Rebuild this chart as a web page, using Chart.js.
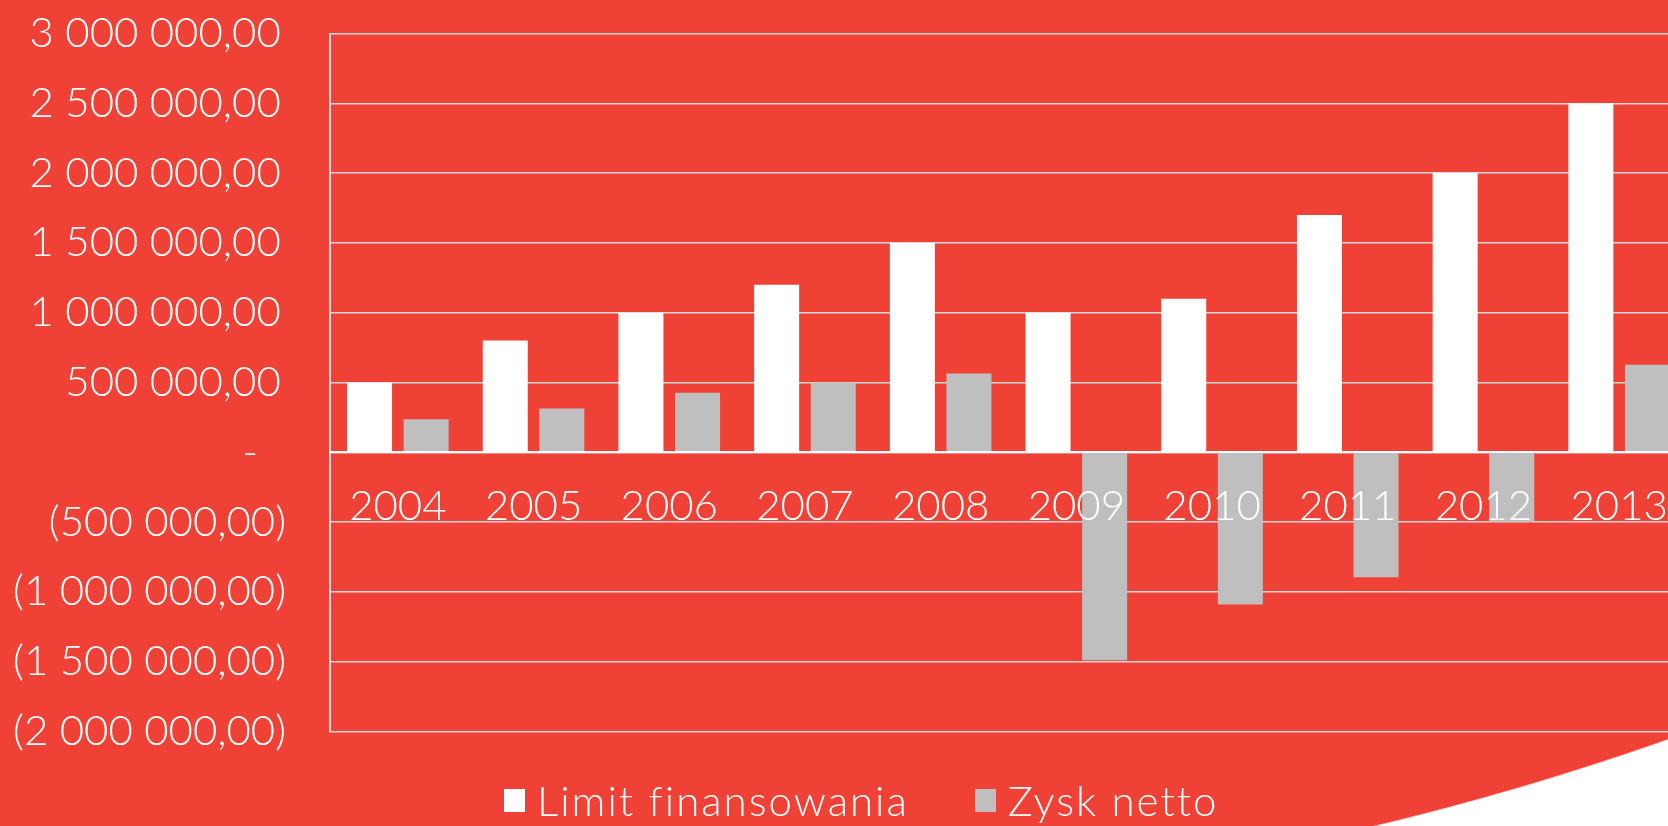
<!DOCTYPE html>
<html>
<head>
<meta charset="utf-8">
<title>Limit finansowania i zysk netto</title>
<script src="https://cdn.jsdelivr.net/npm/chart.js@4.4.1/dist/chart.umd.min.js"></script>
<style>
html, body { margin: 0; padding: 0; width: 1668px; height: 826px; overflow: hidden; }
#page {
    position: relative;
    width: 1668px;
    height: 826px;
    overflow: hidden;
    /* white swoosh in the bottom right corner */
    background: radial-gradient(circle 2906px at 0px -2000px, #ef4136 99.95%, #ffffff 100%) 700px 0 / 968px 826px no-repeat, #ef4136;
}
#chartBox { position: absolute; left: 0; top: 0; width: 1714px; height: 826px; }
#legend {
    position: absolute;
    left: 504px;
    top: 775px;
    display: flex;
    align-items: center;
    font-family: Lato, 'Open Sans', sans-serif;
    font-weight: 300;
    font-size: 42px;
    line-height: 50px;
    letter-spacing: 2px;
    color: #ffffff;
    white-space: nowrap;
}
#legend .item { display: flex; align-items: center; margin-right: 66px; }
#legend .box { width: 21px; height: 23px; margin-right: 12px; }
</style>
</head>
<body>
<div id="page">
    <div id="chartBox"><canvas id="finChart"></canvas></div>
    <div id="legend"></div>
</div>
<script>
var years = ['2004', '2005', '2006', '2007', '2008', '2009', '2010', '2011', '2012', '2013'];
var limitFinansowania = [500000, 800000, 1000000, 1200000, 1500000, 1000000, 1100000, 1700000, 2000000, 2500000];
var zyskNetto = [236000, 314000, 426000, 500000, 564000, -1490000, -1090000, -895000, -497000, 628000];

var yMin = -2000000;
var yMax = 3000000;
var yStep = 500000;
var yTickLabels = ['(2 000 000,00)', '(1 500 000,00)', '(1 000 000,00)', '(500 000,00)', '-',
    '500 000,00', '1 000 000,00', '1 500 000,00', '2 000 000,00', '2 500 000,00', '3 000 000,00'];

var tickFont = { family: "Lato, 'Open Sans', sans-serif", size: 42, weight: 300 };

// legend drawn as html so it can sit where the original one was
var htmlLegend = {
    id: 'htmlLegend',
    afterUpdate: function (chart) {
        var legendBox = document.getElementById('legend');
        legendBox.innerHTML = '';
        chart.data.datasets.forEach(function (ds) {
            var item = document.createElement('div');
            item.className = 'item';
            var box = document.createElement('span');
            box.className = 'box';
            box.style.background = ds.backgroundColor;
            var text = document.createElement('span');
            text.textContent = ds.label;
            item.appendChild(box);
            item.appendChild(text);
            legendBox.appendChild(item);
        });
    }
};

function yLabel(value) {
    var label = yTickLabels[Math.round((value - yMin) / yStep)];
    if (label === undefined) return '';
    // accounting format: room for the bracket / two digits after the dash
    if (label === '-') return label + '  \u2009';
    if (label.charAt(0) !== '(') return label + '\u2009';
    return label;
}

var ctx = document.getElementById('finChart').getContext('2d');
var finChart = new Chart(ctx, {
    type: 'bar',
    data: {
        labels: years,
        datasets: [{
            label: 'Limit finansowania',
            data: limitFinansowania,
            backgroundColor: '#ffffff',
            categoryPercentage: 0.834,
            barPercentage: 0.795
        }, {
            label: 'Zysk netto',
            data: zyskNetto,
            backgroundColor: '#bfbfbf',
            categoryPercentage: 0.834,
            barPercentage: 0.795
        }]
    },
    plugins: [htmlLegend],
    options: {
        responsive: true,
        maintainAspectRatio: false,
        animation: false,
        layout: {
            padding: { left: 0, top: 33.5, right: 27, bottom: 94.5 }
        },
        plugins: {
            legend: { display: false },
            tooltip: { enabled: false }
        },
        scales: {
            x: {
                position: { y: 0 },
                grid: { display: false, drawTicks: false },
                border: { display: true, color: '#ffffff', width: 2, z: 1 },
                ticks: {
                    z: 1,
                    color: '#ffffff',
                    font: tickFont,
                    padding: 29,
                    maxRotation: 0,
                    autoSkip: false
                }
            },
            y: {
                min: yMin,
                max: yMax,
                // invisible tick marks give the gap between labels and the axis
                grid: { color: '#d9d9d9', lineWidth: 1.5, drawTicks: true, tickLength: 44, tickColor: 'rgba(0,0,0,0)' },
                border: { display: true, color: '#d9d9d9', width: 2 },
                ticks: {
                    stepSize: yStep,
                    color: '#ffffff',
                    font: tickFont,
                    padding: 0,
                    callback: yLabel
                },
                afterFit: function (scale) {
                    scale.width = 330;
                }
            }
        }
    }
});
</script>
</body>
</html>
